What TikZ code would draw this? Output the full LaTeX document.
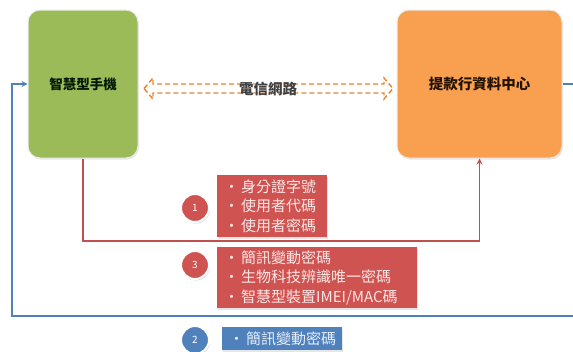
\documentclass[tikz,border=0pt]{standalone}
\usepackage{fontspec}
\setmainfont{Noto Sans CJK TC}
\usetikzlibrary{arrows.meta,shadows,calc}
\definecolor{pgreen}{HTML}{9BBB59}
\definecolor{porange}{HTML}{F9A050}
\definecolor{pred}{HTML}{CF5451}
\definecolor{predline}{HTML}{C0504D}
\definecolor{pblue}{HTML}{4F81BD}
\definecolor{pdash}{HTML}{E9822E}
\definecolor{ppink}{HTML}{FBE6E6}
\definecolor{pbluetext}{HTML}{E6EEF8}
\tikzset{
  x=1pt, y=-1pt,
  mainbox/.style={rounded corners=12pt, draw=black!8, line width=1pt,
    drop shadow={opacity=0.2, shadow xshift=1pt, shadow yshift=-1.5pt},
    font=\fontsize{13.5}{15}\selectfont\bfseries, inner sep=0pt},
  listbox/.style={fill=pred, text=ppink, inner xsep=7pt, inner ysep=0pt, align=left,
    drop shadow={opacity=0.2, shadow xshift=1pt, shadow yshift=-1.5pt},
    font=\fontsize{15}{19.5}\selectfont},
  numcirc/.style={circle, minimum size=28pt, inner sep=0pt, draw=white, line width=2pt,
    text=white, font=\fontsize{10}{12}\selectfont,
    drop shadow={opacity=0.3, shadow xshift=1pt, shadow yshift=-1.5pt}},
  redline/.style={draw=predline, line width=1.5pt},
  blueline/.style={draw=pblue, line width=1.6pt},
  dasharrow/.style={draw=pdash, line width=1.4pt, dash pattern=on 5pt off 3pt},
}
\newcommand{\bul}{\makebox[17pt][l]{•}}
\begin{document}
\begin{tikzpicture}
\useasboundingbox (0,0) rectangle (573,351);
\clip (0,0) rectangle (573,351);

% main boxes
\node[mainbox, fill=pgreen, minimum width=110pt, minimum height=148pt, text=black!90!green] (phone) at (83,84) {智慧型手機};
\node[mainbox, fill=porange, minimum width=165pt, minimum height=148pt, text=black!80!orange!70!black,
      font=\fontsize{14.5}{16}\selectfont\bfseries] (bank) at (479.5,84) {提款行資料中心};

% dashed hollow double arrow
\draw[dasharrow] (144,88.5) -- (153,78) -- (153,84) -- (384,84) -- (384,78) -- (393,88.5)
  -- (384,99) -- (384,93) -- (153,93) -- (153,99) -- cycle;
\node[font=\fontsize{14.5}{16}\selectfont\bfseries, text=black!75, inner sep=0pt] (net) at (268,89) {電信網路};

% red connector
\coordinate (r1) at (83,241);
\coordinate (r2) at (479.5,241);
\draw[redline, -{Stealth[length=6pt,width=6pt]}] (phone.south) -- (r1) -- (r2) -- (bank.south);

% blue connector
\coordinate (b1) at (590,84);
\coordinate (b2) at (590,316);
\coordinate (b3) at (12,316);
\coordinate (b4) at (12,84);
\draw[blueline, -{Stealth[length=6pt,width=6pt]}] (bank.east) -- (b1) -- (b2) -- (b3) -- (b4) -- (phone.west);

% list box 1
\node[listbox, anchor=north west, text width=96pt, minimum height=62pt] (l1) at (217,175)
  {\bul 身分證字號\\ \bul 使用者代碼\\ \bul 使用者密碼};
\node[numcirc, fill=pred] (n1) at (195,208) {1};

% list box 3
\node[listbox, anchor=north west, text width=186pt, minimum height=61pt] (l3) at (217,247)
  {\bul 簡訊變動密碼\\ \bul 生物科技辨識唯一密碼\\ \bul 智慧型裝置IMEI/MAC碼};
\node[numcirc, fill=pred] (n3) at (195,265) {3};

% list box 2
\node[listbox, fill=pblue, text=pbluetext, anchor=north west, text width=106pt, minimum height=23pt] (l2) at (222,327)
  {\bul 簡訊變動密碼};
\node[numcirc, fill=pblue] (n2) at (195,340) {2};
\end{tikzpicture}
\end{document}
